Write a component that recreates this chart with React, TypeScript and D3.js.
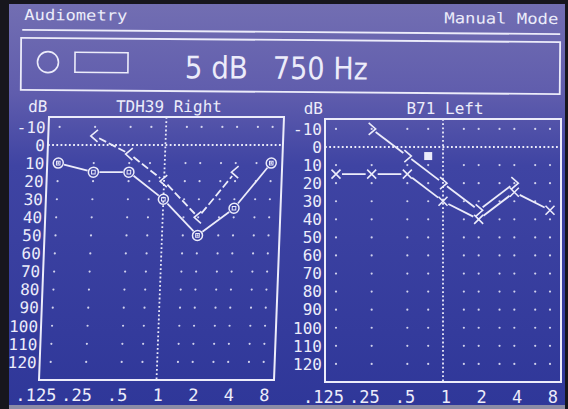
import React from 'react';
import * as d3 from 'd3';

const W = 568;
const H = 409;

// grid columns (Hz) and labelled octaves
const gridFreqs = [125, 250, 500, 750, 1000, 1500, 2000, 3000, 4000, 6000, 8000];
const labelFreqs = [125, 250, 500, 1000, 2000, 4000, 8000];
const freqLabels = ['.125', '.25', '.5', '1', '2', '4', '8'];
const dbTicks = [-10, 0, 10, 20, 30, 40, 50, 60, 70, 80, 90, 100, 110, 120];

// thresholds (dB HL)
const airFreqs = [125, 250, 500, 1000, 2000, 4000, 8000];
const boneFreqs = [250, 500, 1000, 2000, 4000];
const rightAir = [10, 15, 15, 30, 50, 35, 10];
const rightBone = [-5, 5, 20, 40, 15];
const leftAir = [15, 15, 15, 30, 40, 25, 35];
const leftBone = [-10, 5, 20, 35, 20];

// current tone
const cursorFreq = 750;
const cursorDb = 5;

const INK = '#ececfa';
const MONO = '"DejaVu Sans Mono", "Liberation Mono", monospace';

type Pt = [number, number];

function gapSegments(pts: Pt[], gap: number) {
  const segs: { x1: number; y1: number; x2: number; y2: number }[] = [];
  for (let i = 0; i < pts.length - 1; i++) {
    const [ax, ay] = pts[i];
    const [bx, by] = pts[i + 1];
    const len = Math.hypot(bx - ax, by - ay);
    if (len <= gap * 2) continue;
    const ux = (bx - ax) / len, uy = (by - ay) / len;
    segs.push({ x1: ax + ux * gap, y1: ay + uy * gap, x2: bx - ux * gap, y2: by - uy * gap });
  }
  return segs;
}

function Marker({ kind, x, y }: { kind: string; x: number; y: number }) {
  if (kind === 'O') {
    return (
      <g transform={`translate(${x},${y})`} fill="none" stroke={INK}>
        <circle r={5} strokeWidth={1.5} />
        <rect x={-1.8} y={-1.8} width={3.6} height={3.6} strokeWidth={1} />
      </g>
    );
  }
  if (kind === 'X') {
    return <path transform={`translate(${x},${y})`} d="M-4.5,-4.5L4.5,4.5M-4.5,4.5L4.5,-4.5" stroke={INK} strokeWidth={1.6} fill="none" />;
  }
  if (kind === '<') {
    return <path transform={`translate(${x},${y})`} d="M3,-6L-4,0L3,6" stroke={INK} strokeWidth={1.6} fill="none" />;
  }
  return <path transform={`translate(${x},${y})`} d="M-3,-6L4,0L-3,6" stroke={INK} strokeWidth={1.6} fill="none" />;
}

type ChartProps = {
  x: number; y: number; w: number; h: number; skew: number;
  title: string; airMark: string; boneMark: string;
  air: number[]; bone: number[]; boneDash?: string; cursor?: boolean; labelOffset: number;
};

function Audiogram(p: ChartProps) {
  const fx = d3.scaleLog().base(2).domain([125, 8000]).range([11, p.w - 11]);
  const fy = d3.scaleLinear().domain([-15.5, 130]).range([0, p.h]);

  const airPts: Pt[] = airFreqs.map((f, i) => [fx(f), fy(p.air[i])]);
  const bonePts: Pt[] = boneFreqs.map((f, i) => [fx(f), fy(p.bone[i])]);

  return (
    <g transform={`matrix(1,0,${p.skew / p.h},1,${p.x},${p.y})`}>
      <text x={p.w / 2 + 2} y={-5} textAnchor="middle" fontFamily={MONO} fontSize={16} fill={INK}>{p.title}</text>
      <text x={-2} y={-5} textAnchor="end" fontFamily={MONO} fontSize={16} fill={INK}>dB</text>

      {/* grid dots */}
      {gridFreqs.filter(f => f !== 1000).map(f =>
        dbTicks.filter(d => d !== 0).map(d => (
          <circle key={`${f}-${d}`} cx={fx(f)} cy={fy(d)} r={1.1} fill={INK} opacity={0.85} />
        ))
      )}
      <line x1={0} x2={p.w} y1={fy(0)} y2={fy(0)} stroke={INK} strokeWidth={1.8} strokeDasharray="1.8,2.4" />
      <line x1={fx(1000)} x2={fx(1000)} y1={0} y2={p.h} stroke={INK} strokeWidth={1.8} strokeDasharray="1.8,2.4" />

      <rect x={0} y={0} width={p.w} height={p.h} fill="none" stroke={INK} strokeWidth={2} />

      {dbTicks.map(d => (
        <text key={d} x={-3} y={fy(d)} dy="0.36em" textAnchor="end" fontFamily={MONO} fontSize={16} fill={INK}>{d}</text>
      ))}
      {labelFreqs.map((f, i) => (
        <text key={f} x={fx(f) + p.labelOffset} y={p.h + 21} textAnchor="end" fontFamily={MONO} fontSize={17} fill={INK}>{freqLabels[i]}</text>
      ))}

      {/* connecting lines */}
      {gapSegments(bonePts, 5).map((s, i) => (
        <line key={`b${i}`} {...s} stroke={INK} strokeWidth={1.8} strokeDasharray={p.boneDash} />
      ))}
      {gapSegments(airPts, 6).map((s, i) => (
        <line key={`a${i}`} {...s} stroke={INK} strokeWidth={1.8} />
      ))}

      {bonePts.map(([bx, by], i) => <Marker key={`bm${i}`} kind={p.boneMark} x={bx} y={by} />)}
      {airPts.map(([ax, ay], i) => <Marker key={`am${i}`} kind={p.airMark} x={ax} y={ay} />)}

      {p.cursor && (
        <rect x={fx(cursorFreq) - 4} y={fy(cursorDb) - 4} width={8} height={8} fill={INK} />
      )}
    </g>
  );
}

export default function App() {
  return (
    <svg width={W} height={H} style={{ position: 'absolute', left: 0, top: 0, display: 'block' }}>
      <defs>
        <linearGradient id="screen" x1="0" y1="0" x2="0" y2="1">
          <stop offset="0" stopColor="#726eb2" />
          <stop offset="0.22" stopColor="#605dad" />
          <stop offset="0.4" stopColor="#3f44a3" />
          <stop offset="1" stopColor="#2f3799" />
        </linearGradient>
      </defs>
      <rect width={W} height={H} fill="#17161d" />
      <rect x={9} y={4} width={W - 12} height={H - 6} fill="url(#screen)" />
      <rect x={9} y={405} width={W - 12} height={4} fill="#8c8ca6" />

      <g transform="rotate(0.45 290 60)">
        <text x={24} y={22} fontFamily={MONO} fontSize={15} fill={INK} textLength={103} lengthAdjust="spacingAndGlyphs">Audiometry</text>
        <text x={558} y={22} textAnchor="end" fontFamily={MONO} fontSize={15} fill={INK} textLength={114} lengthAdjust="spacingAndGlyphs">Manual Mode</text>
        <line x1={22} x2={560} y1={32} y2={32} stroke={INK} strokeWidth={1.8} />
        <rect x={21} y={40} width={539} height={52} fill="none" stroke={INK} strokeWidth={1.8} />
        <circle cx={48} cy={64} r={10.5} fill="none" stroke={INK} strokeWidth={1.6} />
        <rect x={75} y={54} width={53} height={20} fill="none" stroke={INK} strokeWidth={1.6} />
        <text x={185} y={79} fontFamily='"DejaVu Sans Condensed", "Liberation Sans Narrow", sans-serif' fontSize={31} fill={INK} textLength={63} lengthAdjust="spacingAndGlyphs">5 dB</text>
        <text x={273} y={79} fontFamily='"DejaVu Sans Condensed", "Liberation Sans Narrow", sans-serif' fontSize={31} fill={INK} textLength={95} lengthAdjust="spacingAndGlyphs">750 Hz</text>
      </g>

      <Audiogram x={49} y={117} w={235} h={263} skew={-10} title="TDH39 Right"
        airMark="O" boneMark="<" air={rightAir} bone={rightBone} boneDash="8,3" labelOffset={7} />
      <Audiogram x={325} y={119} w={236} h={263} skew={0} title="B71 Left"
        airMark="X" boneMark=">" air={leftAir} bone={leftBone} cursor labelOffset={8} />
    </svg>
  );
}
